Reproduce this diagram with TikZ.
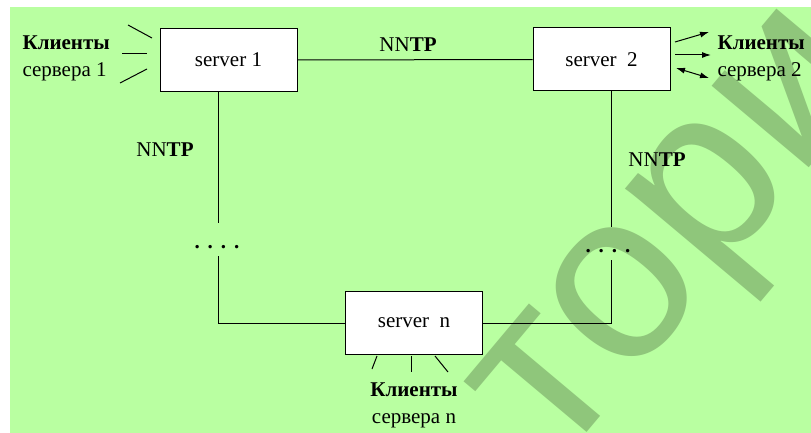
\documentclass[tikz,border=0pt]{standalone}
\usepackage{fontspec}
\setmainfont{Liberation Serif}
\newfontfamily\markfont{Liberation Sans}
\usepackage{tikz}
\usetikzlibrary{arrows.meta,calc}
\definecolor{CBack}{HTML}{B9FFA1}
\definecolor{CMark}{HTML}{8FC67B}

\begin{document}
\begin{tikzpicture}[x=1pt,y=-1pt,
  every node/.style={align=center, font=\fontsize{21}{27}\selectfont},
  srvbox/.style={draw, line width=1pt, fill=white, minimum width=137pt, minimum height=63pt, inner sep=0pt},
  link/.style={line width=1pt},
  tip/.style={-{Latex[length=9pt,width=6pt]}}]
  \useasboundingbox (0,0) rectangle (811,433);
  \fill[CBack] (10,7) rectangle (811,433);
  % watermark under the diagram
  \begin{scope}
    \clip (10,7) rectangle (811,433);
    \node[font=\markfont\fontsize{240}{240}\selectfont, text=CMark, rotate=50,
      anchor=base west, inner sep=0pt] (mark) at (558,467) {торий};
  \end{scope}
  % servers
  \node[srvbox] (srv1) at (228.5,60)   {server 1};
  \node[srvbox] (srv2) at (601.5,59.5) {server\ \ 2};
  \node[srvbox] (srvn) at (414,323)    {server\ \ n};
  % protocol labels and gaps
  \node (p12) at (408,45)  {NN\textbf{TP}};
  \node (p1n) at (165,150) {NN\textbf{TP}};
  \node (p2n) at (657,160) {NN\textbf{TP}};
  \node (dotsL) at (217,247) {\textbf{.\kern8pt.\kern8pt.\kern8pt.}};
  \node (dotsR) at (608,251) {\textbf{.\kern8pt.\kern8pt.\kern8pt.}};
  \coordinate (lA) at (218,223);
  \coordinate (lB) at (218,256);
  \coordinate (rA) at (611,227);
  \coordinate (rB) at (611,260);
  \draw[link] (srv1) -- (srv2);
  \draw[link] (srv1.south -| lA) -- (lA);
  \draw[link] (lB) |- (srvn.west);
  \draw[link] (srv2.south -| rA) -- (rA);
  \draw[link] (rB) |- (srvn.east);
  % clients
  \node[anchor=west, align=left] (cl1) at (19,58) {\textbf{Клиенты}\\сервера 1};
  \node[anchor=west, align=left] (cl2) at (714,58) {\textbf{Клиенты}\\сервера 2};
  \node (cln) at (414,405) {\textbf{Клиенты}\\сервера n};
  \foreach \ax/\ay/\bx/\by in {128/25/152/38, 122/54/147/54, 120/83/147/69,
      377/356/372/369, 411/356/411/372, 435/356/448/372}
    \draw[link] (\ax,\ay) -- (\bx,\by);
  \draw[link, tip] (675,42) -- (709,32);
  \draw[link, tip] (675,55) -- (711,55);
  \draw[link, {Latex[length=9pt,width=6pt]}-{Latex[length=9pt,width=6pt]}] (676,68) -- (709,78);
\end{tikzpicture}
\end{document}
